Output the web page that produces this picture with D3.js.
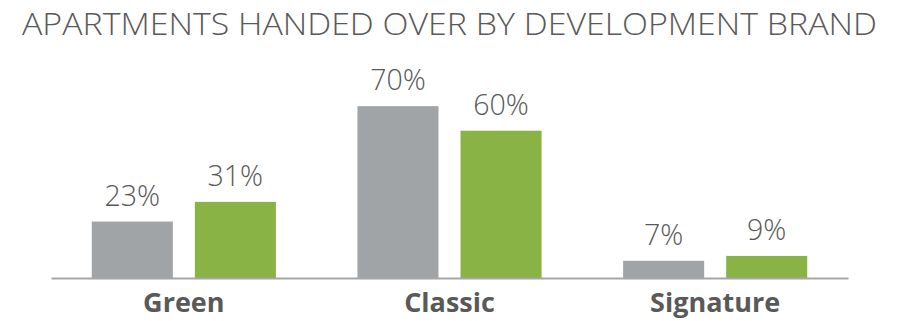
<!DOCTYPE html>
<html>
  <head>
    <title>Apartments Handed Over by Development Brand</title>
    <style>
      body,
      html {
        margin: 0;
        padding: 0;
        background: #fff;
      }
      text {
        font-family: 'Open Sans', Lato, 'DejaVu Sans', sans-serif;
      }
    </style>
  </head>
  <body>
    <svg id="svg" width="899" height="321"></svg>

    <script src="https://cdn.jsdelivr.net/npm/d3@7"></script>
    <script>
      const categories = ['Green', 'Classic', 'Signature'];
      const seriesNames = ['Grey', 'Green'];
      const greyValues = [23, 70, 7];
      const greenValues = [31, 60, 9];
      const colors = ['#a0a4a7', '#8ab346'];

      const data = categories.map((c, i) => ({
        label: c,
        values: [greyValues[i], greenValues[i]],
      }));

      const baseline = 278;
      const svg = d3.select('#svg');

      svg
        .append('text')
        .attr('x', 449.5)
        .attr('y', 35)
        .attr('text-anchor', 'middle')
        .attr('font-size', 32)
        .attr('font-weight', 300)
        .attr('fill', '#595959')
        .attr('textLength', 855)
        .attr('lengthAdjust', 'spacingAndGlyphs')
        .text('APARTMENTS HANDED OVER BY DEVELOPMENT BRAND');

      const xScale = d3.scaleBand().domain(categories).range([51, 848]);

      const innerScale = d3
        .scaleBand()
        .domain(seriesNames)
        .range([0, xScale.bandwidth()])
        .paddingInner(0.2136)
        .paddingOuter(0.3956);

      const yScale = d3.scaleLinear().domain([0, 100]).range([baseline, 32.5]);

      const groups = svg
        .selectAll('g.group')
        .data(data)
        .enter()
        .append('g')
        .attr('class', 'group')
        .attr('transform', (d) => `translate(${xScale(d.label)}, 0)`);

      groups
        .selectAll('rect')
        .data((d) => d.values)
        .enter()
        .append('rect')
        .attr('x', (d, i) => innerScale(seriesNames[i]))
        .attr('y', (d) => yScale(d))
        .attr('width', innerScale.bandwidth())
        .attr('height', (d) => baseline - yScale(d))
        .attr('fill', (d, i) => colors[i]);

      groups
        .selectAll('text.value')
        .data((d) => d.values)
        .enter()
        .append('text')
        .attr('class', 'value')
        .attr('x', (d, i) => innerScale(seriesNames[i]) + innerScale.bandwidth() / 2)
        .attr('y', (d) => yScale(d) - 16)
        .attr('text-anchor', 'middle')
        .attr('font-size', 28.5)
        .attr('font-weight', 300)
        .attr('fill', '#595959')
        .text((d) => d + '%');

      const bottomAxis = d3.axisBottom(xScale).tickSize(0).tickPadding(15);

      const axisG = svg
        .append('g')
        .attr('transform', `translate(0, ${baseline})`)
        .call(bottomAxis);

      axisG.select('.domain').attr('stroke', '#a6a6a6').attr('stroke-width', 2);
      axisG
        .selectAll('text')
        .attr('font-size', 27)
        .attr('font-weight', 'bold')
        .attr('fill', '#595959')
        .attr('font-family', "'DejaVu Sans', sans-serif");
    </script>
  </body>
</html>
